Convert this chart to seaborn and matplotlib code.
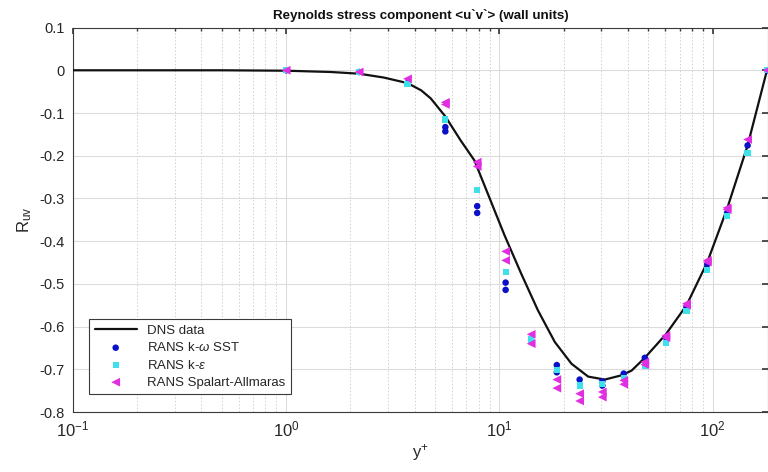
import numpy as np
import pandas as pd
import matplotlib
matplotlib.use("Agg")
import matplotlib.pyplot as plt
import seaborn as sns
from matplotlib.ticker import LogLocator, NullFormatter

# ---------------- data ----------------
dns_yplus = [0.1, 0.5, 1.0, 1.62, 2.2, 2.87, 3.71, 4.3, 4.77, 5.58, 6.6, 7.64, 8.83,
             10.57, 12.66, 15.17, 18.2, 21.8, 26.1, 31.2, 37.4, 41.7, 48.1, 60.4,
             75.5, 94.5, 117, 146, 180]
dns_ruv = [0.0, 0.0, -0.001, -0.004, -0.008, -0.017, -0.030, -0.047, -0.066, -0.108,
           -0.165, -0.211, -0.289, -0.386, -0.476, -0.562, -0.636, -0.687, -0.717,
           -0.724, -0.714, -0.703, -0.673, -0.618, -0.550, -0.449, -0.324, -0.176, 0.0]

sst_yplus = [1.0, 2.2, 3.71, 5.58, 5.58, 7.87, 7.87, 10.7, 10.7, 14.1, 18.6, 18.6,
             23.8, 30.4, 30.4, 38.3, 48.1, 60.4, 75.5, 94.5, 117, 146, 180]
sst_ruv = [0.0, -0.004, -0.030, -0.133, -0.143, -0.318, -0.334, -0.497, -0.514,
           -0.632, -0.690, -0.707, -0.724, -0.728, -0.738, -0.710, -0.673, -0.625,
           -0.554, -0.454, -0.334, -0.176, 0.0]

ke_yplus = [1.0, 2.2, 3.71, 5.58, 7.87, 10.7, 14.1, 18.6, 23.8, 30.4, 38.3, 48.1,
            60.4, 75.5, 94.5, 117, 146, 180]
ke_ruv = [0.0, -0.004, -0.033, -0.115, -0.281, -0.472, -0.630, -0.701, -0.738,
          -0.735, -0.720, -0.693, -0.639, -0.564, -0.467, -0.342, -0.193, 0.0]

sa_yplus = [1.0, 2.2, 3.71, 5.58, 5.58, 7.87, 7.87, 10.7, 10.7, 14.1, 14.1, 18.6,
            18.6, 23.8, 23.8, 30.4, 30.4, 38.3, 38.3, 48.1, 48.1, 60.4, 60.4, 75.5,
            75.5, 94.5, 94.5, 117, 117, 146, 180]
sa_ruv = [0.0, -0.004, -0.020, -0.075, -0.080, -0.215, -0.225, -0.424, -0.445,
          -0.618, -0.640, -0.724, -0.744, -0.757, -0.774, -0.753, -0.765, -0.726,
          -0.735, -0.683, -0.689, -0.621, -0.626, -0.546, -0.550, -0.445, -0.449,
          -0.322, -0.326, -0.162, 0.0]

yticks = [-0.8, -0.7, -0.6, -0.5, -0.4, -0.3, -0.2, -0.1, 0.0, 0.1]
ytick_labels = ["-0.8", "-0.7", "-0.6", "-0.5", "-0.4", "-0.3", "-0.2", "-0.1", "0", "0.1"]
labels = ["DNS data", r"RANS k-$\omega$ SST", r"RANS k-$\epsilon$", "RANS Spalart-Allmaras"]
title = "Reynolds stress component <u`v`> (wall units)"

# ---------------- style ----------------
sns.set_theme(style="white")
plt.rcParams["font.family"] = ["Liberation Sans", "DejaVu Sans"]
plt.rcParams["mathtext.fontset"] = "custom"
plt.rcParams["mathtext.rm"] = "Liberation Sans"
plt.rcParams["mathtext.it"] = "Liberation Sans:italic"
plt.rcParams["axes.unicode_minus"] = False

fig = plt.figure(figsize=(7.68, 4.72), dpi=100)
ax = fig.add_axes([0.095, 0.127, 0.905, 0.8146])

dns = pd.DataFrame({"yplus": dns_yplus, "ruv": dns_ruv})
sst = pd.DataFrame({"yplus": sst_yplus, "ruv": sst_ruv})
ke = pd.DataFrame({"yplus": ke_yplus, "ruv": ke_ruv})
sa = pd.DataFrame({"yplus": sa_yplus, "ruv": sa_ruv})

sns.lineplot(data=dns, x="yplus", y="ruv", ax=ax, color="#111111", lw=1.6,
             label=labels[0], sort=True, zorder=3)
sns.scatterplot(data=sst, x="yplus", y="ruv", ax=ax, color="#0a10c8", marker="o",
                s=22, edgecolor="none", label=labels[1], zorder=4)
sns.scatterplot(data=ke, x="yplus", y="ruv", ax=ax, color="#3ee0ea", marker="s",
                s=20, edgecolor="none", label=labels[2], zorder=5)
sns.scatterplot(data=sa, x="yplus", y="ruv", ax=ax, color="#e02ee0", marker="<",
                s=40, edgecolor="none", label=labels[3], zorder=6)

ax.set_xscale("log")
ax.set_xlim(0.1, 182)
ax.set_ylim(-0.8, 0.1)
ax.set_yticks(yticks)
ax.set_yticklabels(ytick_labels)
ax.xaxis.set_major_locator(LogLocator(base=10, numticks=10))
ax.xaxis.set_minor_locator(LogLocator(base=10, subs=np.arange(2, 10), numticks=20))
ax.xaxis.set_minor_formatter(NullFormatter())

ax.grid(True, which="major", axis="both", color="#dcdcdc", lw=0.8, ls="-")
ax.grid(True, which="minor", axis="x", color="#d0d0d0", lw=0.7, ls=(0, (1.5, 2)))
ax.set_axisbelow(True)

for sp in ax.spines.values():
    sp.set_color("#3a3a3a")
    sp.set_linewidth(0.8)

ax.tick_params(axis="both", which="both", direction="in", top=True, right=True,
               colors="#3a3a3a", labelcolor="#262626")
ax.tick_params(axis="y", which="major", length=4, labelsize=10.5, pad=6)
ax.tick_params(axis="x", which="major", length=4, labelsize=12, pad=5)
ax.tick_params(axis="x", which="minor", length=2.5)

ax.set_xlabel(r"y$^{+}$", fontsize=12, color="#262626", labelpad=2)
ax.set_ylabel(r"R$_{\rm uv}$", fontsize=12, color="#262626", labelpad=4)
ax.set_title(title, fontsize=9.6, fontweight="bold", color="#111111", pad=6)

leg = ax.legend(loc="lower left", bbox_to_anchor=(0.014, 0.03), frameon=True,
                fancybox=False, edgecolor="#3a3a3a", fontsize=9.5,
                handlelength=3.2, handletextpad=0.8, borderpad=0.4,
                labelspacing=0.35, scatterpoints=1)
leg.get_frame().set_linewidth(0.8)
leg.get_frame().set_facecolor("white")
leg.get_frame().set_alpha(1)

fig.savefig("out.png", dpi=100)
